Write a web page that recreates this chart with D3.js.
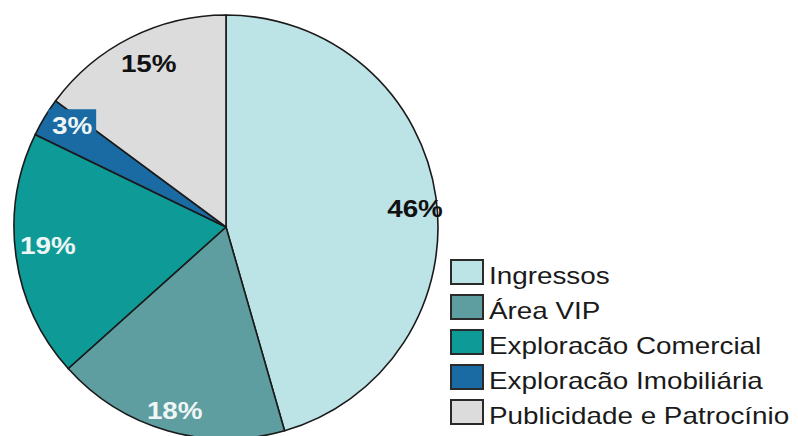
<!DOCTYPE html>
<html>
<head>
<meta charset="utf-8">
<script src="https://cdn.jsdelivr.net/npm/d3@7"></script>
<style>
    body { margin: 0; background: #fff; }
    text { font-family: "Liberation Sans", Arial, sans-serif; }
</style>
</head>
<body>
<script>
const categories = ["Ingressos", "Área VIP", "Exploracão Comercial", "Exploracão Imobiliária", "Publicidade e Patrocínio"];
const values = [46, 18, 19, 3, 15];
const colors = ["#bce3e6", "#5e9ea0", "#0e9b97", "#1a6aa3", "#dcdcdc"];
const labelColors = ["#111", "#eef6f6", "#eef6f6", "#eef6f6", "#111"];

const width = 798, height = 436;
const cx = 226, cy = 227, radius = 212;
const stretch = 1.16;  // text in the original is a bit wide

const data = categories.map((c, i) => ({name: c, value: values[i]}));

const svg = d3.select("body").append("svg")
    .attr("width", width)
    .attr("height", height);

const g = svg.append("g")
    .attr("transform", `translate(${cx}, ${cy})`);

const pie = d3.pie().sort(null).value((d) => d.value);
const arc = d3.arc().innerRadius(0).outerRadius(radius);
const arcs = pie(data);

// Slices
g.selectAll("path").data(arcs).enter().append("path")
    .attr("d", arc)
    .attr("fill", (d, i) => colors[i])
    .attr("stroke", "#1a1a1a")
    .attr("stroke-width", 1.6);

// Label placement: radius factor and small angle nudge (degrees)
const labelR = [0.896, 0.897, 0.845, 0.87, 0.855];
const labelShift = [2.3, -0.4, 2.2, 2.3, 1.5];
const labels = g.selectAll("g.lbl").data(arcs).enter().append("g")
    .attr("class", "lbl")
    .attr("transform", (d, i) => {
        const a = (d.startAngle + d.endAngle) / 2 + labelShift[i] * Math.PI / 180;
        const r = radius * labelR[i];
        return `translate(${Math.sin(a) * r}, ${-Math.cos(a) * r})`;
    });

// small background behind the 3% label
labels.filter((d, i) => i === 3).append("rect")
    .attr("x", -24).attr("y", -16)
    .attr("width", 48).attr("height", 30)
    .attr("fill", colors[3]);

labels.append("text")
    .attr("text-anchor", "middle")
    .attr("dy", "0.36em")
    .attr("font-size", 24)
    .attr("font-weight", "bold")
    .attr("transform", `scale(${stretch}, 1)`)
    .attr("fill", (d, i) => labelColors[i])
    .text((d) => d.data.value + "%");

// Legend
const legend = svg.append("g")
    .attr("transform", "translate(451, 260)");

const rowH = 35;
const rows = legend.selectAll("g").data(data).enter().append("g")
    .attr("transform", (d, i) => `translate(0, ${i * rowH})`);

rows.append("rect")
    .attr("x", 0).attr("y", 0)
    .attr("width", 32).attr("height", 24)
    .attr("fill", (d, i) => colors[i])
    .attr("stroke", "#2a2a2a")
    .attr("stroke-width", 2);

rows.append("text")
    .attr("transform", `translate(38, 24) scale(${stretch}, 1)`)
    .attr("font-size", 24)
    .attr("fill", "#1a1a1a")
    .text((d) => d.name);
</script>
</body>
</html>
